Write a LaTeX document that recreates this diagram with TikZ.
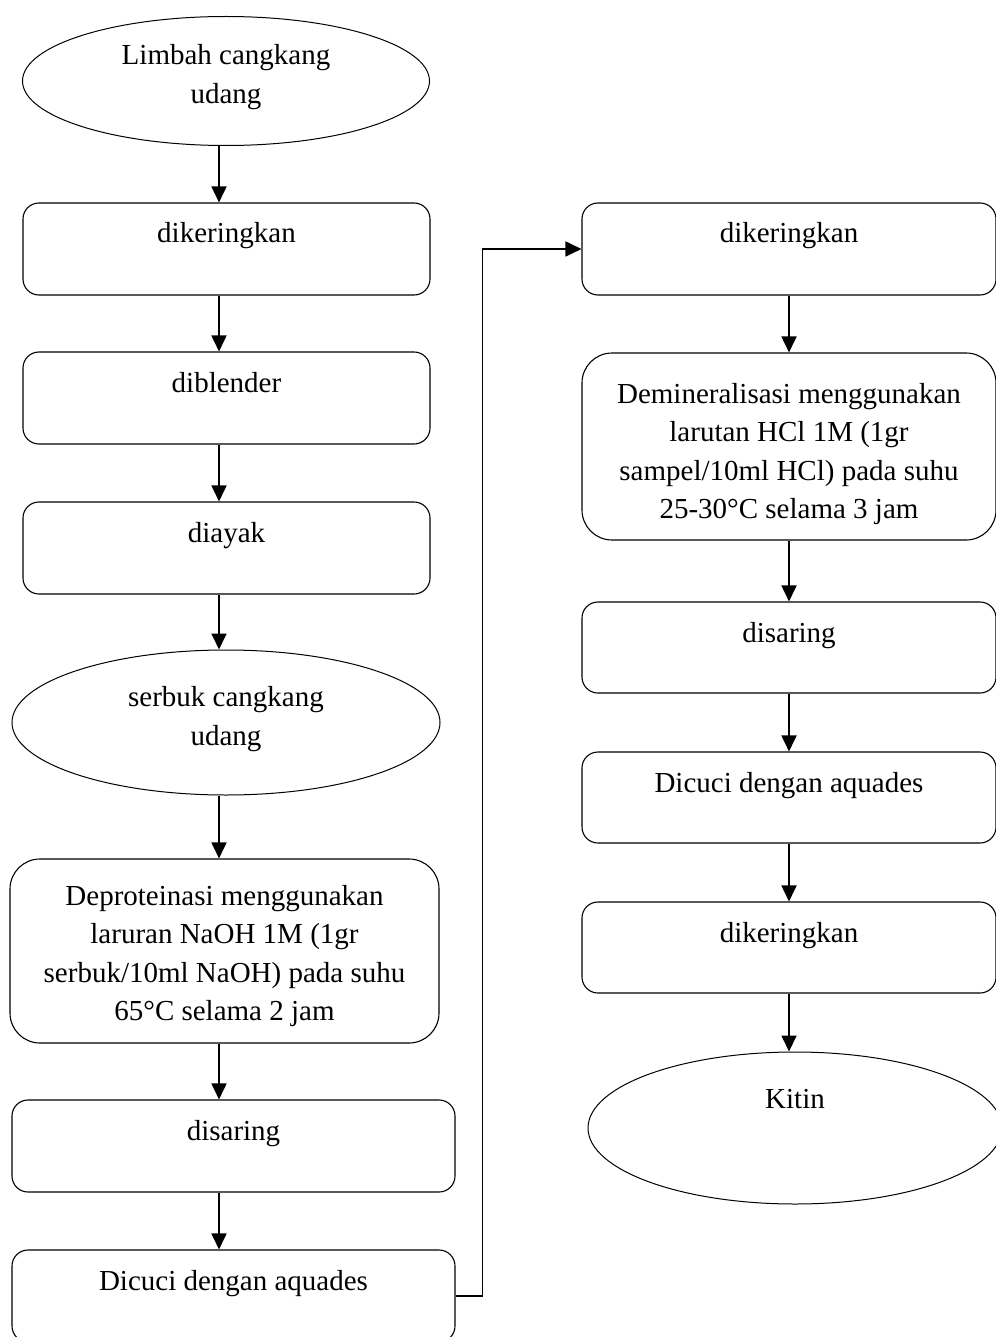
\documentclass[tikz,border=0pt]{standalone}
\usepackage{fontspec}
\setmainfont{Liberation Serif}
\usetikzlibrary{shapes.geometric, arrows.meta}
\newcommand{\isi}[4]{\parbox[c][#2pt][t]{#1pt}{\centering\rule{0pt}{#3pt}#4}}

\begin{document}
\begin{tikzpicture}[x=1pt, y=-1pt,
    kotak/.style={draw, rounded corners=16pt, inner sep=0pt, line width=1.1pt},
    kotakbesar/.style={kotak, rounded corners=30pt},
    elips/.style={draw, ellipse, inner sep=0pt, line width=1pt},
    panah/.style={-{Triangle[width=15pt,length=16pt]}, line width=1.8pt},
    font=\fontsize{29}{38.5}\selectfont]
    \useasboundingbox (0,0) rectangle (995,1337);
    \coordinate (kiri) at (219,0);
    % kolom kiri
    \node[elips, minimum width=407pt, minimum height=129pt] (limbah) at (226,81) {\isi{240}{80}{24}{Limbah cangkang\\udang}};
    \node[kotak] (kering1) at (226.5,249) {\isi{407}{92}{40}{dikeringkan}};
    \node[kotak] (blender) at (226.5,398) {\isi{407}{92}{40}{diblender}};
    \node[kotak] (ayak) at (226.5,548) {\isi{407}{92}{40}{diayak}};
    \node[elips, minimum width=428pt, minimum height=145pt] (serbuk) at (226,722.5) {\isi{260}{90}{29}{serbuk cangkang\\udang}};
    \node[kotakbesar] (deprot) at (224.5,951) {\isi{429}{184}{46}{Deproteinasi menggunakan\\laruran NaOH 1M (1gr\\serbuk/10ml NaOH) pada suhu\\65°C selama 2 jam}};
    \node[kotak] (saring1) at (233.5,1146) {\isi{443}{92}{40}{disaring}};
    \node[kotak] (cuci1) at (233.5,1296) {\isi{443}{92}{40}{Dicuci dengan aquades}};
    % kolom kanan
    \node[kotak] (kering2) at (789,249) {\isi{414}{92}{40}{dikeringkan}};
    \node[kotakbesar] (demin) at (789,446.5) {\isi{414}{187}{50}{Demineralisasi menggunakan\\larutan HCl 1M (1gr\\sampel/10ml HCl) pada suhu\\25-30°C selama 3 jam}};
    \node[kotak] (saring2) at (789,647.5) {\isi{414}{91}{40}{disaring}};
    \node[kotak] (cuci2) at (789,797.5) {\isi{414}{91}{40}{Dicuci dengan aquades}};
    \node[kotak] (kering3) at (789,947.5) {\isi{414}{91}{40}{dikeringkan}};
    \node[elips, minimum width=414pt, minimum height=152pt] (kitin) at (795,1128) {\isi{200}{100}{30}{Kitin}};
    % panah
    \foreach \a/\b in {limbah/kering1, kering1/blender, blender/ayak, ayak/serbuk, serbuk/deprot, deprot/saring1, saring1/cuci1}
        \draw[panah] (\a.south -| kiri) -- (\b.north -| kiri);
    \foreach \a/\b in {kering2/demin, demin/saring2, saring2/cuci2, cuci2/kering3}
        \draw[panah] (\a.south) -- (\b.north);
    \draw[panah] (kering3.south) -- (kering3.south |- kitin.north);
    \draw[panah] (cuci1.east) -- ++(27,0) |- (kering2.west);
\end{tikzpicture}
\end{document}
